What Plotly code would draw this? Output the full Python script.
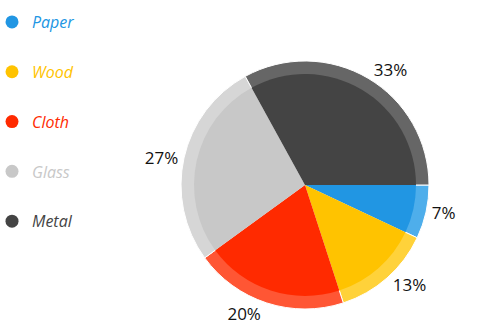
import plotly.graph_objects as go

categories = ["Paper", "Wood", "Cloth", "Glass", "Metal"]
values = [7, 13, 20, 27, 33]
colors = ["#2196E3", "#FFC300", "#FF2A00", "#C8C8C8", "#444444"]
ring_colors = ["#4EAEEB", "#FFD23A", "#FF5634", "#D6D6D6", "#666666"]

W, H = 477, 336
cx, cy = 305, 185
r_out, r_in = 124, 111

def dom(r):
    return dict(x=[(cx - r) / W, (cx + r) / W], y=[(H - cy - r) / H, (H - cy + r) / H])

fig = go.Figure()
fig.add_trace(go.Pie(
    labels=categories, values=values, sort=False, direction="clockwise", rotation=90,
    marker=dict(colors=ring_colors, line=dict(color="white", width=1)),
    textinfo="percent", textposition="outside",
    textfont=dict(family="Open Sans", size=17, color="#111111"),
    domain=dom(r_out), showlegend=False, hoverinfo="label+percent",
))
fig.add_trace(go.Pie(
    labels=categories, values=values, sort=False, direction="clockwise", rotation=90,
    marker=dict(colors=colors, line=dict(color="white", width=0)),
    textinfo="none", domain=dom(r_in), showlegend=False, hoverinfo="label+percent",
))
for name, c in zip(categories, colors):
    fig.add_trace(go.Scatter(
        x=[None], y=[None], mode="markers", name=f'<span style="color:{c}"><i>{name}</i></span>',
        marker=dict(color=c, size=13, symbol="circle"), legendgroup=name,
    ))

fig.update_layout(
    width=W, height=H, margin=dict(l=0, r=0, t=0, b=0),
    paper_bgcolor="white", plot_bgcolor="white",
    xaxis=dict(visible=False), yaxis=dict(visible=False),
    legend=dict(x=0, y=0.985, xanchor="left", yanchor="top", tracegroupgap=26,
                indentation=-8,
                font=dict(family="Open Sans", size=16), bgcolor="rgba(0,0,0,0)"),
)
fig.write_html("out.html")
